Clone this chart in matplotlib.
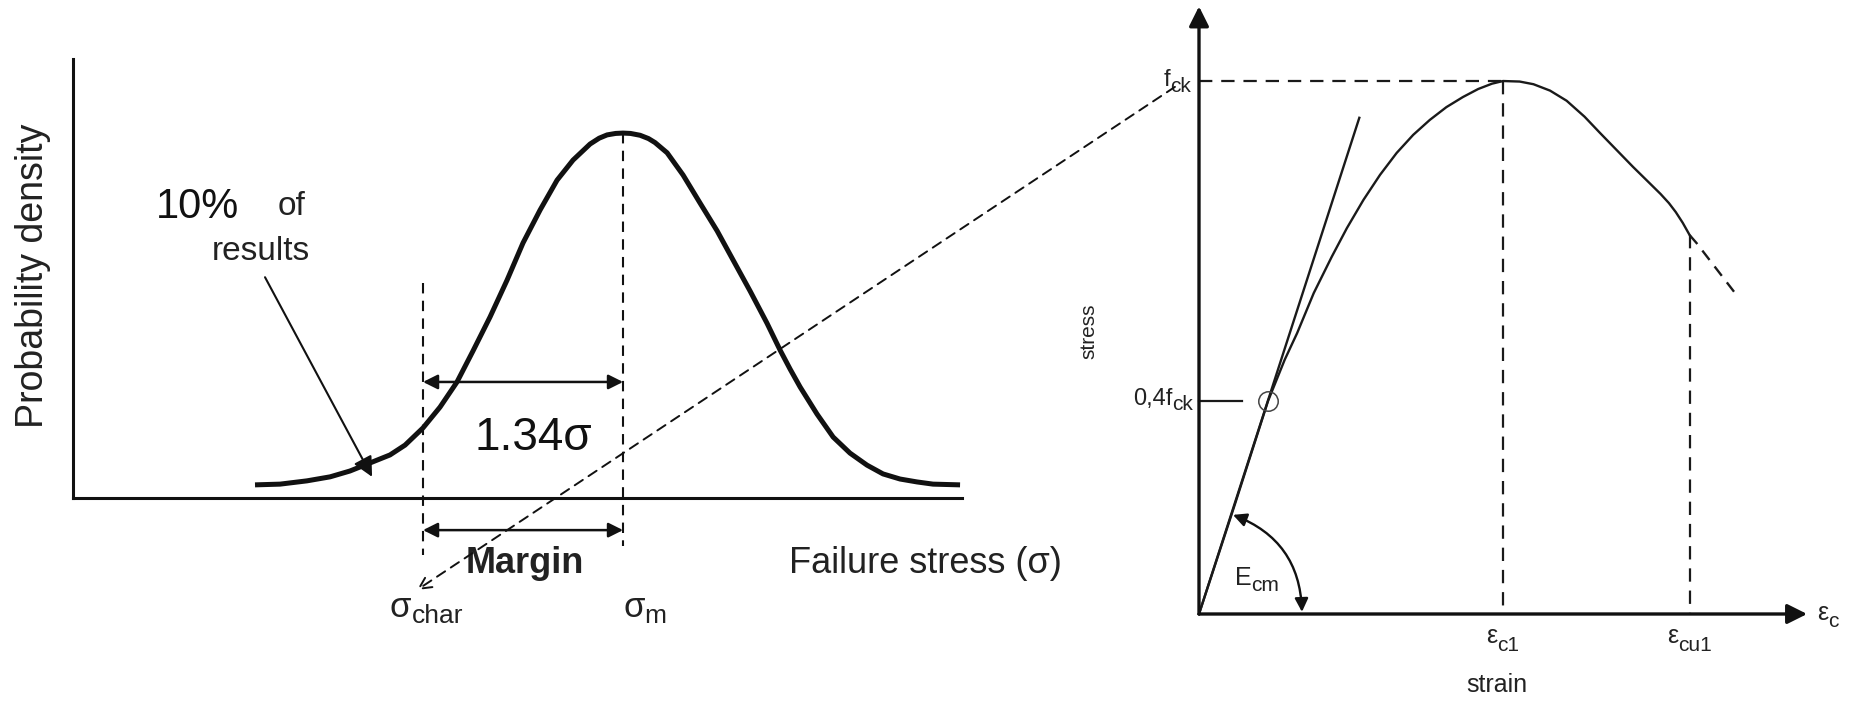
import matplotlib
matplotlib.use('Agg')
import matplotlib.pyplot as plt
from matplotlib.patches import ConnectionPatch

plt.rcParams['font.family'] = ['Liberation Sans', 'DejaVu Sans']

# --- left: failure stress distribution (x in sigma units from the mean, y relative density)
dens_x = [-2.465, -2.297, -2.117, -1.962, -1.829, -1.695, -1.561, -1.460, -1.34, -1.226,
          -1.112, -1.005, -0.891, -0.777, -0.670, -0.556, -0.442, -0.335, -0.221, -0.16, -0.107, -0.05,
          0.0, 0.05, 0.114, 0.17, 0.214, 0.295, 0.402, 0.516, 0.630, 0.737, 0.851, 0.964,
          1.052, 1.119, 1.186, 1.299, 1.407, 1.520, 1.634, 1.741, 1.855, 1.969, 2.076, 2.257]
dens_y = [0.036, 0.038, 0.047, 0.058, 0.074, 0.096, 0.118, 0.145, 0.192, 0.249,
          0.318, 0.403, 0.496, 0.597, 0.699, 0.789, 0.871, 0.926, 0.970, 0.986, 0.995, 0.999,
          1.0, 0.999, 0.994, 0.985, 0.974, 0.946, 0.885, 0.808, 0.732, 0.652, 0.567, 0.479,
          0.405, 0.353, 0.304, 0.230, 0.167, 0.123, 0.090, 0.066, 0.052, 0.044, 0.038, 0.036]
sig_char = -1.34
sig_m = 0.0
peak_density = 1.0

# --- right: concrete stress-strain (strain in permille, stress / f_ck)
strain_pts = [0.0, 0.26, 0.50, 0.62, 0.71, 0.83, 0.96, 1.07, 1.19, 1.31, 1.43, 1.55, 1.67,
              1.79, 1.91, 2.02, 2.12, 2.2, 2.32, 2.42, 2.54, 2.66, 2.79, 2.90, 3.02, 3.14,
              3.25, 3.34, 3.40, 3.45, 3.50, 3.55]
stress_pts = [0.0, 0.206, 0.40, 0.477, 0.527, 0.602, 0.670, 0.724, 0.777, 0.824, 0.865, 0.899, 0.927,
              0.951, 0.970, 0.985, 0.995, 1.0, 0.999, 0.994, 0.982, 0.963, 0.933, 0.903, 0.871, 0.839,
              0.811, 0.788, 0.771, 0.754, 0.734, 0.711]
tail_strain = [3.55, 3.60, 3.90]
tail_stress = [0.711, 0.696, 0.595]
tangent_strain = [0.0, 1.16]
tangent_stress = [0.0, 0.931]
eps_c1 = 2.2
eps_cu1 = 3.55
f_ck = 1.0
frac_04 = 0.4
eps_04 = 0.50

fig = plt.figure(figsize=(18.52, 7.02), dpi=100)
fig.patch.set_facecolor('white')
renderer = fig.canvas.get_renderer()


def text_width(s, size, weight='normal'):
    t = fig.text(0, 0, s, fontsize=size, fontweight=weight)
    w = t.get_window_extent(renderer).width
    t.remove()
    return w * 72.0 / fig.dpi


def sub_label(ax, x, y, main, sub, size, sub_size, ha='left', drop=5, color='#222222'):
    wm = text_width(main, size)
    ws = text_width(sub, sub_size)
    off = {'left': 0, 'center': -(wm + ws) / 2, 'right': -(wm + ws)}[ha]
    ax.annotate(main, xy=(x, y), xytext=(off, 0), textcoords='offset points', fontsize=size,
                ha='left', va='baseline', color=color, annotation_clip=False)
    ax.annotate(sub, xy=(x, y), xytext=(off + wm, -drop), textcoords='offset points', fontsize=sub_size,
                ha='left', va='baseline', color=color, annotation_clip=False)


# ---------------- left panel ----------------
ax1 = fig.add_axes([73 / 1852, 204 / 702, 889 / 1852, 439 / 702])
ax1.set_xlim(-3.684, 2.27)
ax1.set_ylim(0, 1.203)
for s in ['top', 'right']:
    ax1.spines[s].set_visible(False)
for s in ['left', 'bottom']:
    ax1.spines[s].set_linewidth(2.2)
    ax1.spines[s].set_color('#111111')
ax1.set_xticks([])
ax1.set_yticks([])
ax1.patch.set_alpha(0)

ax1.plot(dens_x, dens_y, color='#111111', lw=3.6, solid_capstyle='butt',
         solid_joinstyle='round', clip_on=False)

dash = (0, (5, 3.5))
ax1.plot([sig_char, sig_char], [0.589, -0.156], color='#111111', lw=1.5, ls=dash, clip_on=False)
ax1.plot([sig_m, sig_m], [peak_density, -0.132], color='#111111', lw=1.5, ls=dash, clip_on=False)

arrow_kw = dict(arrowstyle='<|-|>', color='#111111', lw=1.8, mutation_scale=22, shrinkA=0, shrinkB=0)
ax1.annotate('', xy=(sig_m, 0.318), xytext=(sig_char, 0.318), arrowprops=arrow_kw, annotation_clip=False)
ax1.annotate('', xy=(sig_m, -0.088), xytext=(sig_char, -0.088), arrowprops=arrow_kw, annotation_clip=False)

ax1.annotate('', xy=(-1.681, 0.058), xytext=(-2.398, 0.605),
             arrowprops=dict(arrowstyle='-|>', color='#111111', lw=1.5, mutation_scale=30,
                             shrinkA=0, shrinkB=0), annotation_clip=False)

ax1.text(-2.847, 0.767, '10%', fontsize=30, ha='center', va='baseline', color='#111111')
ax1.text(-2.217, 0.775, 'of', fontsize=24, ha='center', va='baseline', color='#222222')
ax1.text(-2.425, 0.652, 'results', fontsize=24, ha='center', va='baseline', color='#222222')
ax1.text(-3.952, 0.608, 'Probability density', fontsize=27, rotation=90,
         ha='center', va='center', color='#222222', clip_on=False)
ax1.text(-0.603, 0.132, '1.34σ', fontsize=33, ha='center', va='baseline', color='#111111')
ax1.text(-0.656, -0.205, 'Margin', fontsize=26, fontweight='bold', ha='center', va='baseline',
         color='#222222', clip_on=False)
ax1.text(1.112, -0.205, 'Failure stress (σ)', fontsize=26, ha='left', va='baseline',
         color='#222222', clip_on=False)
sub_label(ax1, -1.561, -0.326, 'σ', 'char', 25, 19, drop=4)
sub_label(ax1, 0.0, -0.326, 'σ', 'm', 25, 19, drop=4)

# ---------------- right panel ----------------
ax2 = fig.add_axes([1199 / 1852, 88 / 702, 608.1 / 1852, 607.6 / 702])
ax2.set_xlim(0, 4.40)
ax2.set_ylim(0, 1.14)
ax2.axis('off')

axis_kw = dict(arrowstyle='-|>', color='#111111', lw=2.4, mutation_scale=30, shrinkA=0, shrinkB=0)
ax2.annotate('', xy=(4.40, 0), xytext=(0, 0), arrowprops=axis_kw, annotation_clip=False)
ax2.annotate('', xy=(0, 1.14), xytext=(0, 0), arrowprops=axis_kw, annotation_clip=False)

ax2.plot(strain_pts, stress_pts, color='#1a1a1a', lw=1.7, solid_joinstyle='round', clip_on=False)
ax2.plot(tail_strain, tail_stress, color='#1a1a1a', lw=1.7, ls=(0, (5, 3.5)), clip_on=False)
ax2.plot(tangent_strain, tangent_stress, color='#1a1a1a', lw=1.7, clip_on=False)

ax2.plot([0, eps_c1], [f_ck, f_ck], color='#1a1a1a', lw=1.6, ls=(0, (6, 4)), clip_on=False)
ax2.plot([eps_c1, eps_c1], [f_ck, 0], color='#1a1a1a', lw=1.6, ls=(0, (6, 4)), clip_on=False)
ax2.plot([eps_cu1, eps_cu1], [stress_pts[-1], 0], color='#1a1a1a', lw=1.6, ls=(0, (6, 4)), clip_on=False)

ax2.plot([0, 0.31], [frac_04, frac_04], color='#1a1a1a', lw=1.6, clip_on=False)
ax2.plot([eps_04], [frac_04], marker='o', ms=14, mfc='none', mec='#444444', mew=1.1, clip_on=False)

ax2.annotate('', xy=(0.246, 0.186), xytext=(0.745, 0.004),
             arrowprops=dict(arrowstyle='<|-|>', color='#111111', lw=1.7, mutation_scale=20,
                             shrinkA=0, shrinkB=0, connectionstyle='arc3,rad=0.33'),
             annotation_clip=False)

sub_label(ax2, -0.06, 0.99, 'f', 'ck', 17, 15, ha='right', drop=4)
sub_label(ax2, -0.043, 0.393, '0,4f', 'ck', 17, 15, ha='right', drop=4)
sub_label(ax2, 0.26, 0.054, 'E', 'cm', 18, 15, drop=4)
sub_label(ax2, eps_c1, -0.054, 'ε', 'c1', 18, 15, ha='center', drop=6)
sub_label(ax2, eps_cu1, -0.054, 'ε', 'cu1', 18, 15, ha='center', drop=6)
sub_label(ax2, 4.472, -0.011, 'ε', 'c', 18, 15, drop=5)
ax2.text(2.157, -0.146, 'strain', ha='center', va='baseline', fontsize=18, color='#222222')
ax2.text(-0.796, 0.531, 'stress', rotation=90, ha='center', va='center', fontsize=15, color='#222222')

# dashed link from f_ck back to sigma_char
con = ConnectionPatch(xyA=(-0.174, 0.989), coordsA=ax2.transData,
                      xyB=(-1.380, -0.252), coordsB=ax1.transData,
                      arrowstyle='->', ls=(0, (5, 3.5)), lw=1.4, color='#111111',
                      mutation_scale=22, shrinkA=0, shrinkB=0)
fig.add_artist(con)

fig.savefig('out.png', dpi=100, facecolor='white')
